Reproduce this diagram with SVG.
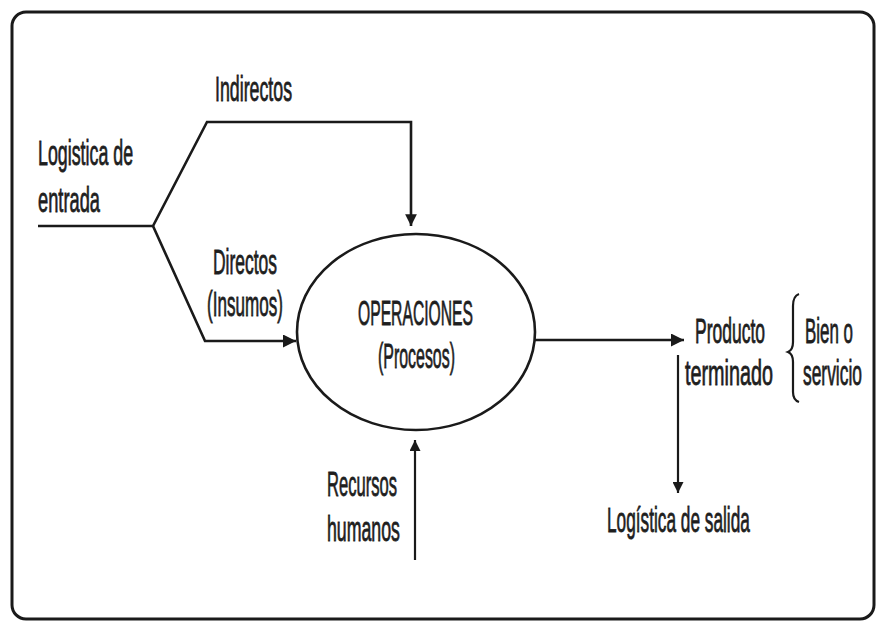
<svg xmlns="http://www.w3.org/2000/svg" width="878" height="622" viewBox="0 0 878 622">
  <defs>
    <style>
      .frame { fill: #ffffff; stroke: #1a1a1a; stroke-width: 3; }
      .line { fill: none; stroke: #1a1a1a; stroke-width: 2.6; }
      .thin { fill: none; stroke: #1a1a1a; stroke-width: 2.2; }
      .node { fill: #ffffff; stroke: #1a1a1a; stroke-width: 2.6; }
      text { font-family: "Liberation Sans", Arial, sans-serif; font-size: 35px; fill: #1e1e1e; stroke: #1e1e1e; stroke-width: 0.8; }
    </style>
    <marker id="arrow" viewBox="0 0 10 10" refX="10" refY="5" markerWidth="6" markerHeight="5" markerUnits="strokeWidth" orient="auto">
      <path d="M0,0 L10,5 L0,10 z" fill="#1a1a1a"/>
    </marker>
    <marker id="arrowSmall" viewBox="0 0 10 10" refX="10" refY="5" markerWidth="5" markerHeight="4.5" markerUnits="strokeWidth" orient="auto">
      <path d="M0,0 L10,5 L0,10 z" fill="#1a1a1a"/>
    </marker>
  </defs>

  <!-- outer frame -->
  <rect class="frame" x="12" y="12" width="862" height="607" rx="14" ry="14"/>

  <!-- connectors -->
  <g id="connectors">
    <!-- inbound logistics: trunk and its two branches -->
    <polyline class="line" points="38,226 153,226 207,122 411,122 411,226" marker-end="url(#arrowSmall)"/>
    <polyline class="line" points="153,226 205,341 296,341" marker-end="url(#arrow)"/>
    <!-- finished product out -->
    <line class="line" x1="535" y1="340" x2="684" y2="340" marker-end="url(#arrow)"/>
    <!-- outbound logistics -->
    <line class="thin" x1="678" y1="355" x2="678" y2="493" marker-end="url(#arrow)"/>
    <!-- human resources -->
    <line class="thin" x1="415" y1="560" x2="415" y2="440" marker-end="url(#arrow)"/>
    <!-- brace grouping product type -->
    <path class="thin" d="M799,294 Q793,296 793,306 L793,342 Q793,350 788,352 Q793,354 793,362 L793,392 Q793,400 799,402"/>
  </g>

  <!-- condensed labels: each text is squeezed horizontally from its baseline origin -->
  <g id="operaciones">
    <ellipse class="node" cx="416" cy="332" rx="119" ry="98"/>
    <text transform="translate(358,325) scale(0.448,1)">OPERACIONES</text>
    <text transform="translate(378,368) scale(0.455,1)">(Procesos)</text>
  </g>

  <g id="logistica-entrada">
    <text transform="translate(38,165) scale(0.509,1)">Logistica de</text>
    <text transform="translate(38,212) scale(0.522,1)">entrada</text>
  </g>

  <g id="indirectos">
    <text transform="translate(215,101) scale(0.508,1)">Indirectos</text>
  </g>

  <g id="directos">
    <text transform="translate(213,274) scale(0.499,1)">Directos</text>
    <text transform="translate(207,316) scale(0.488,1)">(Insumos)</text>
  </g>

  <g id="recursos-humanos">
    <text transform="translate(327,496) scale(0.474,1)">Recursos</text>
    <text transform="translate(327,541) scale(0.507,1)">humanos</text>
  </g>

  <g id="producto-terminado">
    <text transform="translate(695,343) scale(0.5,1)">Producto</text>
    <text transform="translate(685,385) scale(0.566,1)">terminado</text>
  </g>

  <g id="bien-servicio">
    <text transform="translate(805,343) scale(0.484,1)">Bien o</text>
    <text transform="translate(803,385) scale(0.497,1)">servicio</text>
  </g>

  <g id="logistica-salida">
    <text transform="translate(607,532) scale(0.493,1)">Logística de salida</text>
  </g>
</svg>
